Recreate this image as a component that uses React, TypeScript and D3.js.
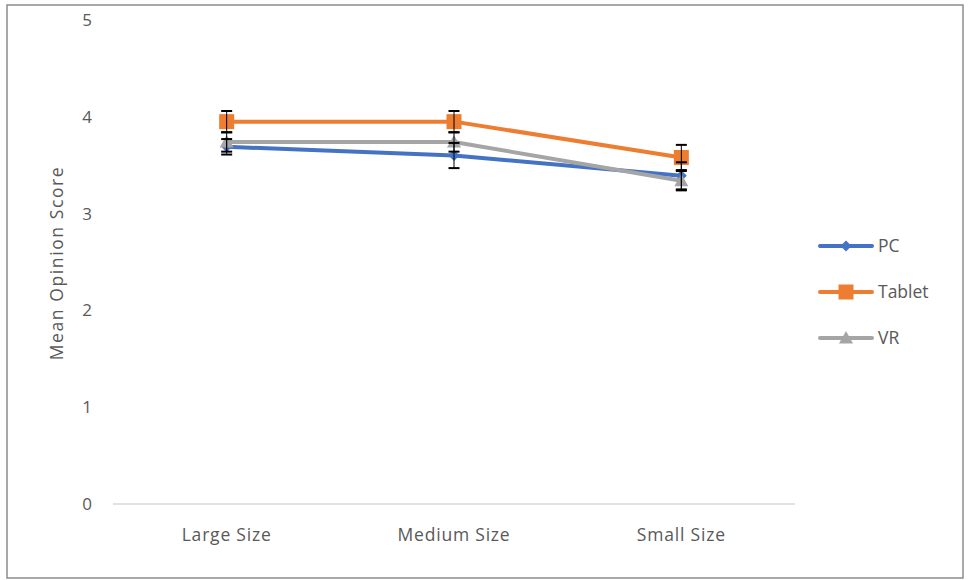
import React from "react";
import * as d3 from "d3";

const categories = ["Large Size", "Medium Size", "Small Size"];
const seriesNames = ["PC", "Tablet", "VR"];
const pcValues = [3.69, 3.6, 3.39];
const tabletValues = [3.95, 3.95, 3.58];
const vrValues = [3.74, 3.74, 3.34];
const pcErrors = [0.08, 0.13, 0.14];
const tabletErrors = [0.11, 0.11, 0.13];
const vrErrors = [0.1, 0.1, 0.1];
const yTicks = [0, 1, 2, 3, 4, 5];
const colors = ["#4472C4", "#ED7D31", "#A5A5A5"];
const markerTypes = ["diamond", "square", "triangle"];

const W = 969;
const H = 580;
const FONT = "'Open Sans', 'Liberation Sans', sans-serif";

function Marker({ type, x, y, color }: { type: string; x: number; y: number; color: string }) {
  if (type === "diamond") {
    const s = 5.5;
    return <path d={`M${x},${y - s}L${x + s},${y}L${x},${y + s}L${x - s},${y}Z`} fill={color} />;
  }
  if (type === "square") {
    const s = 7.5;
    return <rect x={x - s} y={y - s} width={2 * s} height={2 * s} fill={color} />;
  }
  const s = 7;
  return <path d={`M${x},${y - s}L${x + s},${y + s * 0.8}L${x - s},${y + s * 0.8}Z`} fill={color} />;
}

export default function App() {
  const x = d3.scaleBand<string>().domain(categories).range([113, 795]);
  const y = d3.scaleLinear().domain([0, 5]).range([504, 20]);
  const series = [
    { name: seriesNames[0], values: pcValues, errors: pcErrors },
    { name: seriesNames[1], values: tabletValues, errors: tabletErrors },
    { name: seriesNames[2], values: vrValues, errors: vrErrors },
  ];
  const cx = (c: string) => (x(c) as number) + x.bandwidth() / 2;
  const line = d3
    .line<number>()
    .x((_, i) => cx(categories[i]))
    .y((d) => y(d));

  return (
    <svg
      width={W}
      height={H}
      style={{ position: "absolute", left: 0, top: 0, background: "#fff" }}
    >
      <rect x={7} y={5} width={956} height={573} fill="#fff" stroke="#8c8c8c" strokeWidth={1.5} />
      <line x1={113} x2={795} y1={y(0)} y2={y(0)} stroke="#d9d9d9" strokeWidth={1.3} />
      {yTicks.map((t) => (
        <text
          key={t}
          x={92}
          y={y(t)}
          dy="0.35em"
          textAnchor="end"
          fontFamily={FONT}
          fontSize={17}
          fill="#595959"
        >
          {t}
        </text>
      ))}
      <text
        transform={`translate(63,${263}) rotate(-90)`}
        textAnchor="middle"
        fontFamily={FONT}
        fontSize={17.5}
        letterSpacing={1.6}
        fill="#595959"
      >
        Mean Opinion Score
      </text>
      {categories.map((c) => (
        <text
          key={c}
          x={cx(c)}
          y={541}
          textAnchor="middle"
          fontFamily={FONT}
          fontSize={17.5}
          letterSpacing={0.8}
          fill="#595959"
        >
          {c}
        </text>
      ))}
      {series.map((s, si) => (
        <path
          key={s.name}
          d={line(s.values) || ""}
          fill="none"
          stroke={colors[si]}
          strokeWidth={4}
          strokeLinejoin="round"
          strokeLinecap="round"
        />
      ))}
      {series.map((s, si) =>
        s.values.map((v, i) => (
          <Marker key={s.name + i} type={markerTypes[si]} x={cx(categories[i])} y={y(v)} color={colors[si]} />
        ))
      )}
      {series.map((s, si) =>
        s.values.map((v, i) => {
          const px = cx(categories[i]);
          const y1 = y(v + s.errors[i]);
          const y2 = y(v - s.errors[i]);
          return (
            <g key={"e" + s.name + i} stroke="#000" strokeWidth={1}>
              <line x1={px} x2={px} y1={y1} y2={y2} />
              <line x1={px - 5.5} x2={px + 5.5} y1={y1} y2={y1} strokeWidth={2} />
              <line x1={px - 5.5} x2={px + 5.5} y1={y2} y2={y2} strokeWidth={2} />
            </g>
          );
        })
      )}
      {series.map((s, si) => {
        const ly = 246 + si * 46;
        return (
          <g key={"l" + s.name}>
            <line x1={820} x2={872} y1={ly} y2={ly} stroke={colors[si]} strokeWidth={4} strokeLinecap="round" />
            <Marker type={markerTypes[si]} x={846} y={ly} color={colors[si]} />
            <text x={878} y={ly} dy="0.35em" fontFamily={FONT} fontSize={17.5} fill="#595959">
              {s.name}
            </text>
          </g>
        );
      })}
    </svg>
  );
}
